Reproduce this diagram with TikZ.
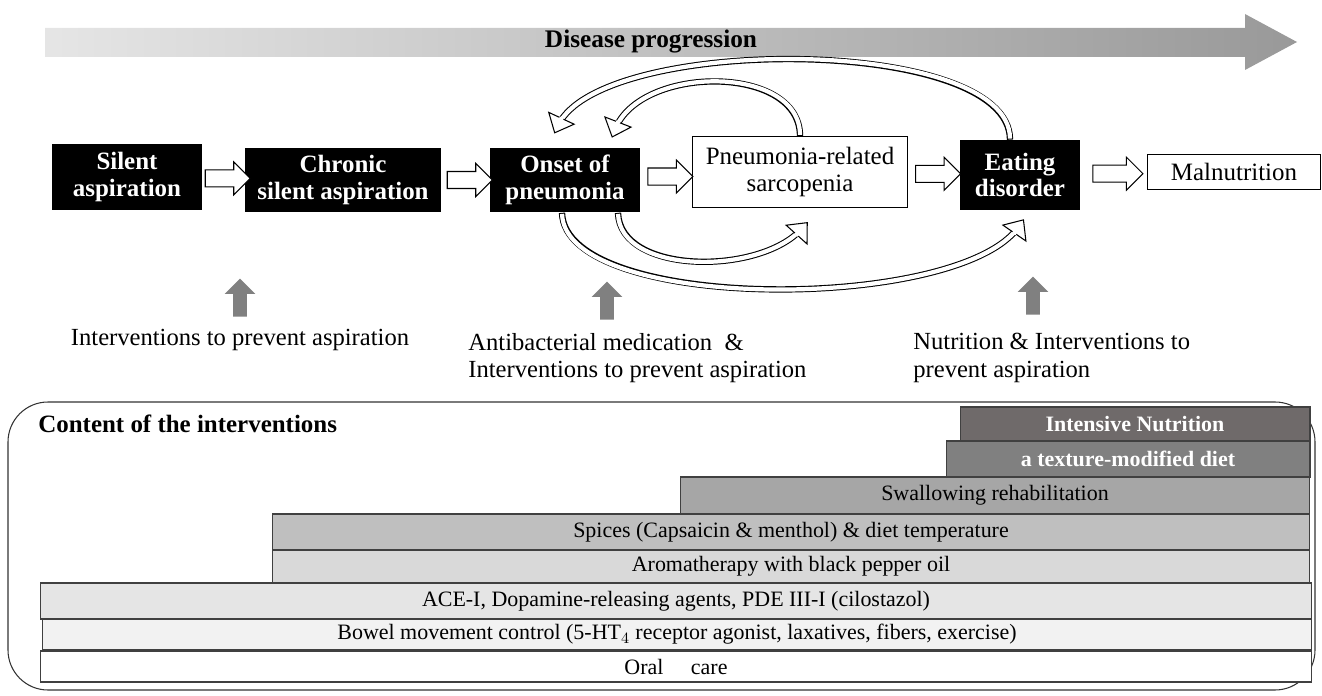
\documentclass[tikz,border=0pt]{standalone}
\usepackage{fontspec}
\setmainfont{Liberation Serif}
\usetikzlibrary{shapes.arrows,decorations.markings}

\begin{document}
\begin{tikzpicture}[x=0.02cm,y=-0.02cm,
    font=\fontsize{14}{15.5}\selectfont,
    stage/.style={fill=black,text=white,align=center,inner sep=0,
      font=\fontsize{14.2}{15}\selectfont\bfseries},
    state/.style={draw,fill=white,align=center,inner sep=0,line width=0.6pt,
      font=\fontsize{14.2}{15}\selectfont},
    openarr/.style={single arrow,draw,fill=white,line width=0.6pt,inner sep=0,
      minimum height=0.9cm,single arrow head extend=0.16cm},
    uparr/.style={single arrow,rotate=90,fill=black!50,inner sep=0,
      minimum height=0.76cm,single arrow head extend=0.17cm},
    curvearr/.style={line width=3.6pt,
      postaction={draw=white,line width=2.4pt,shorten <=0.6pt},
      postaction={decorate,decoration={markings,mark=at position -0.1pt with {
        \draw[fill=white,line width=0.6pt] (0.16cm,0) -- (-0.16cm,0.28cm) -- (-0.16cm,-0.28cm) -- cycle;
        \draw[white,line width=2.4pt] (-0.18cm,0) -- (-0.13cm,0);}}}},
    bar/.style={draw=black!75,line width=0.6pt,inner sep=0,font=\fontsize{12.5}{15}\selectfont}]
  \useasboundingbox (0,0) rectangle (1322,696);

  % disease progression arrow
  \shade[left color=black!10,right color=black!40]
    (45,28) -- (1245,28) -- (1245,14) -- (1297,42) -- (1245,70) -- (1245,57) -- (45,57) -- cycle;
  \node[font=\fontsize{14.4}{15}\selectfont\bfseries] (prog) at (651,42) {Disease progression};

  % stages
  \node[stage,minimum width=3cm,minimum height=1.32cm] (sil) at (127,177) {Silent\\aspiration};
  \node[stage,minimum width=3.92cm,minimum height=1.3cm] (chr) at (343,180) {Chronic\\silent aspiration};
  \node[stage,minimum width=3cm,minimum height=1.3cm] (ons) at (565,180) {Onset of\\pneumonia};
  \node[state,minimum width=4.3cm,minimum height=1.42cm] (sar) at (800,172) {Pneumonia-related\\sarcopenia};
  \node[stage,minimum width=2.4cm,minimum height=1.4cm] (eat) at (1020,175) {Eating\\disorder};
  \node[state,minimum width=3.46cm,minimum height=0.7cm] (mal) at (1234,172) {Malnutrition};

  \path (sil) -- node[openarr] {\rule{0pt}{0.32cm}} (chr);
  \path (chr) -- node[openarr] {\rule{0pt}{0.32cm}} (ons);
  \path (ons) -- node[openarr] {\rule{0pt}{0.32cm}} (sar);
  \path (sar) -- node[openarr] {\rule{0pt}{0.32cm}} (eat);
  \path (eat) -- node[openarr,minimum height=1cm] {\rule{0pt}{0.32cm}} (mal);

  % feedback loops
  \draw[curvearr] (sar.north) .. controls +(0,-72) and +(25,-65) .. ([xshift=1cm,yshift=0.35cm]ons.north);
  \draw[curvearr] ([xshift=-0.2cm]eat.north) .. controls +(0,-105) and +(42,-91) .. ([xshift=-0.14cm,yshift=0.43cm]ons.north);
  \draw[curvearr] ([xshift=1.06cm]ons.south) .. controls +(2,62) and +(-42,47) .. ([xshift=0.04cm,yshift=-0.41cm]sar.south);
  \draw[curvearr] ([xshift=-0.06cm]ons.south) .. controls +(3,100) and +(-59,86) .. ([xshift=-0.02cm,yshift=-0.32cm]eat.south);

  % interventions
  \node[uparr] (up1) at (240,301) {\rule{0pt}{0.26cm}};
  \node[uparr] (up2) at (607,304) {\rule{0pt}{0.26cm}};
  \node[uparr] (up3) at (1033,299) {\rule{0pt}{0.26cm}};
  \node (int1) at (240,340) {Interventions to prevent aspiration};
  \node[anchor=west,align=left,inner sep=0] (int2) at (468,358) {Antibacterial medication\ \ \&\\Interventions to prevent aspiration};
  \node[anchor=west,align=left,inner sep=0] (int3) at (913,358) {Nutrition \& Interventions to\\prevent aspiration};

  % content of the interventions
  \draw[black!80,line width=0.6pt,rounded corners=0.8cm] (8,402) rectangle (1315,690);
  \node[anchor=west,inner sep=0,font=\fontsize{14.2}{15}\selectfont\bfseries] (cont) at (38,424) {Content of the interventions};

  \node[bar,fill={rgb,255:red,111;green,106;blue,106},text=white,font=\fontsize{12.5}{15}\selectfont\bfseries,
    minimum width=7cm,minimum height=0.68cm] (b1) at (1135,424) {Intensive Nutrition};
  \node[bar,fill=black!50,text=white,font=\fontsize{12.5}{15}\selectfont\bfseries,
    minimum width=7.28cm,minimum height=0.72cm] (b2) at (1128,459) {a texture-modified diet};
  \node[bar,fill=black!35,minimum width=12.6cm,minimum height=0.74cm] (b3) at (995,495.5) {Swallowing rehabilitation};
  \node[bar,fill=black!25,minimum width=20.76cm,minimum height=0.72cm] (b4) at (791,532) {Spices (Capsaicin \& menthol) \& diet temperature};
  \node[bar,fill=black!15,minimum width=20.76cm,minimum height=0.66cm] (b5) at (791,566.5) {Aromatherapy with black pepper oil};
  \node[bar,fill=black!10,minimum width=25.44cm,minimum height=0.72cm] (b6) at (676,601) {ACE-I, Dopamine-releasing agents, PDE III-I (cilostazol)};
  \node[bar,fill=black!5,minimum width=25.4cm,minimum height=0.62cm] (b7) at (677,634.5) {Bowel movement control (5-HT$_4$ receptor agonist, laxatives, fibers, exercise)};
  \node[bar,fill=white,minimum width=25.44cm,minimum height=0.62cm] (b8) at (676,666.5) {Oral\hspace{0.55cm}care};
\end{tikzpicture}
\end{document}
